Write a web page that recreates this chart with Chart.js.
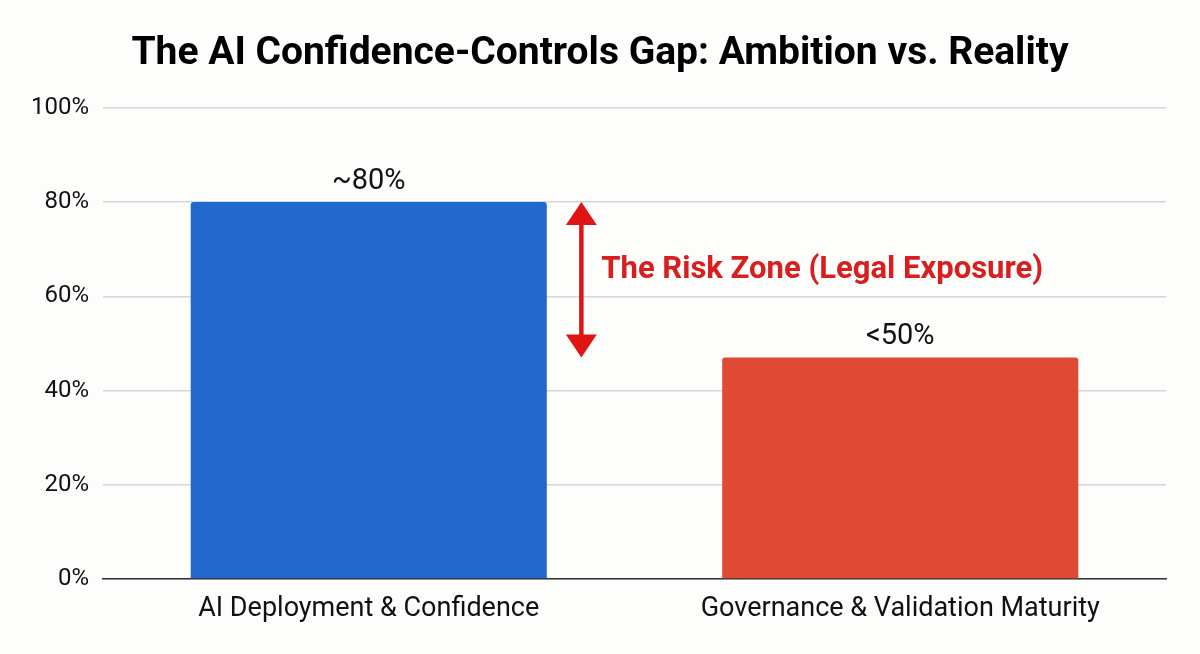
<!DOCTYPE html>
<html>
<head>
<meta charset="utf-8">
<script src="https://cdn.jsdelivr.net/npm/chart.js@4.4.1/dist/chart.umd.min.js"></script>
<style>
  html, body { margin: 0; padding: 0; background: #fdfdfc; }
  #wrap { width: 1200px; height: 654px; }
</style>
</head>
<body>
<div id="wrap"><canvas id="c" width="1200" height="654"></canvas></div>
<script>
const categories = ["AI Deployment & Confidence", "Governance & Validation Maturity"];
const values = [80, 47];
const valueLabels = ["~80%", "<50%"];
const barColors = ["#2268cc", "#e04a35"];
const yTicks = [0, 20, 40, 60, 80, 100];
const titleText = "The AI Confidence-Controls Gap: Ambition vs. Reality";
const gapLabel = "The Risk Zone (Legal Exposure)";

const TITLE_FONT = 'bold 39px Roboto, "Noto Sans", sans-serif';

const valueLabelPlugin = {
  id: 'valueLabels',
  afterDatasetsDraw(chart) {
    const ctx = chart.ctx;
    const meta = chart.getDatasetMeta(0);
    ctx.save();
    ctx.font = '29px Roboto, "Noto Sans", sans-serif';
    ctx.fillStyle = '#111';
    ctx.textAlign = 'center';
    ctx.textBaseline = 'bottom';
    meta.data.forEach((bar, i) => {
      ctx.fillText(valueLabels[i], bar.x, bar.y - 6);
    });
    ctx.restore();
  }
};

const centeredTitlePlugin = {
  id: 'centeredTitle',
  afterDraw(chart) {
    const t = chart.titleBlock;
    const ctx = chart.ctx;
    ctx.save();
    ctx.font = TITLE_FONT;
    ctx.fillStyle = '#000';
    ctx.textAlign = 'center';
    ctx.textBaseline = 'middle';
    const cy = t ? (t.top + t.bottom) / 2 : 50;
    ctx.fillText(titleText, chart.width / 2, cy);
    ctx.restore();
  }
};

const gapPlugin = {
  id: 'gapArrow',
  afterDatasetsDraw(chart) {
    const ctx = chart.ctx;
    const y = chart.scales.y;
    const x = chart.scales.x;
    const top = y.getPixelForValue(values[0]);
    const bot = y.getPixelForValue(values[1]);
    const ax = x.getPixelForValue(0) + (x.getPixelForValue(1) - x.getPixelForValue(0)) * 0.40;
    const headH = 23, headW = 31;
    ctx.save();
    ctx.fillStyle = '#e01414';
    ctx.strokeStyle = '#e01414';
    ctx.lineWidth = 4.5;
    ctx.beginPath();
    ctx.moveTo(ax, top + headH - 2);
    ctx.lineTo(ax, bot - headH + 2);
    ctx.stroke();
    ctx.beginPath();
    ctx.moveTo(ax, top);
    ctx.lineTo(ax - headW / 2, top + headH);
    ctx.lineTo(ax + headW / 2, top + headH);
    ctx.closePath();
    ctx.fill();
    ctx.beginPath();
    ctx.moveTo(ax, bot);
    ctx.lineTo(ax - headW / 2, bot - headH);
    ctx.lineTo(ax + headW / 2, bot - headH);
    ctx.closePath();
    ctx.fill();
    ctx.font = 'bold 31px Roboto, "Noto Sans", sans-serif';
    ctx.fillStyle = '#d81e1e';
    ctx.textAlign = 'left';
    ctx.textBaseline = 'middle';
    ctx.fillText(gapLabel, ax + 20, (top + bot) / 2 - 10);
    ctx.restore();
  }
};

const bgPlugin = {
  id: 'bg',
  beforeDraw(chart) {
    const ctx = chart.ctx;
    ctx.save();
    ctx.fillStyle = '#fdfdfc';
    ctx.fillRect(0, 0, chart.width, chart.height);
    ctx.restore();
  }
};

new Chart(document.getElementById('c'), {
  type: 'bar',
  data: {
    labels: categories,
    datasets: [{
      data: values,
      backgroundColor: barColors,
      borderRadius: { topLeft: 3, topRight: 3 },
      borderSkipped: 'bottom',
      categoryPercentage: 1.0,
      barPercentage: 0.67
    }]
  },
  options: {
    responsive: false,
    animation: false,
    devicePixelRatio: 1,
    layout: { padding: { left: 0, right: 34, top: 0, bottom: 29 } },
    plugins: {
      legend: { display: false },
      tooltip: { enabled: false },
      title: {
        display: true,
        text: titleText,
        color: 'rgba(0,0,0,0)',
        font: { family: 'Roboto, "Noto Sans", sans-serif', size: 39, weight: 'bold' },
        padding: { top: 28, bottom: 33 }
      }
    },
    scales: {
      x: {
        afterFit(scale) { scale.height = 46; },
        grid: { display: false, drawTicks: false },
        border: { display: true, color: '#333', width: 1.5 },
        ticks: {
          color: '#111',
          padding: 14,
          maxRotation: 0,
          font: { family: 'Roboto, "Noto Sans", sans-serif', size: 27 }
        }
      },
      y: {
        min: 0,
        max: 100,
        afterFit(scale) { scale.width = 103; },
        afterBuildTicks(scale) { scale.ticks = yTicks.map(v => ({ value: v })); },
        grid: { color: '#d6d6d6', lineWidth: 1.5, drawTicks: false },
        border: { display: false },
        ticks: {
          color: '#111',
          padding: 14,
          font: { family: 'Roboto, "Noto Sans", sans-serif', size: 24 },
          callback: v => v + '%'
        }
      }
    }
  },
  plugins: [bgPlugin, valueLabelPlugin, gapPlugin, centeredTitlePlugin]
});
</script>
</body>
</html>
